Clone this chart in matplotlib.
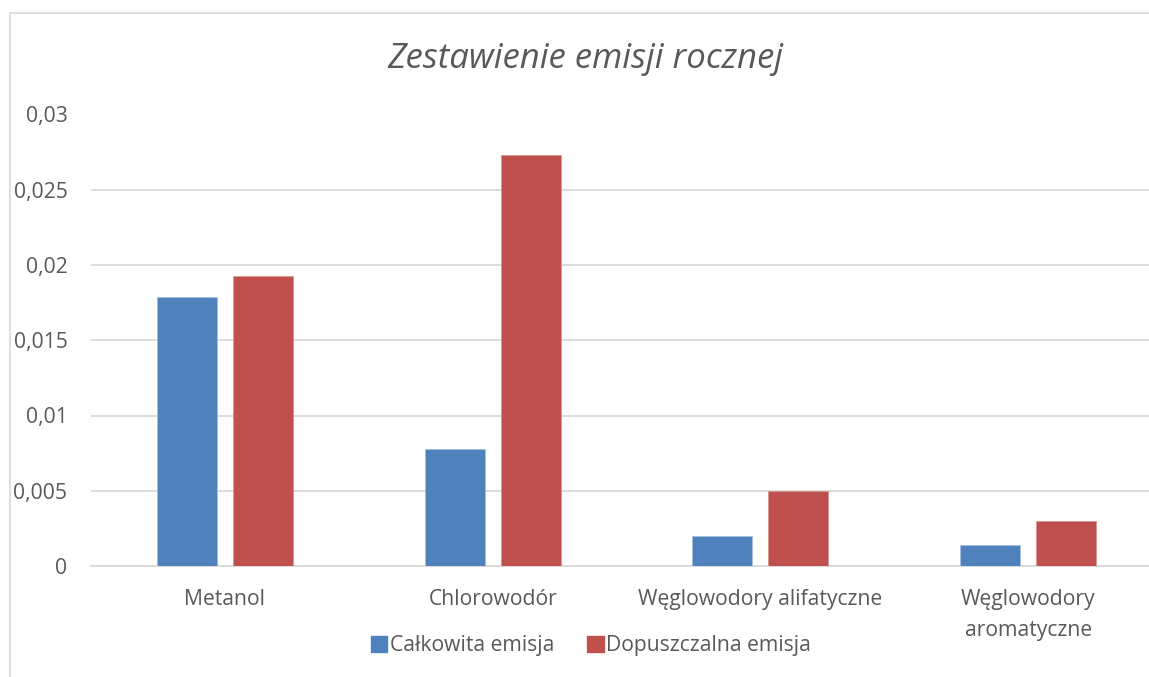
import matplotlib
matplotlib.use("Agg")
import matplotlib.pyplot as plt
from matplotlib.ticker import FuncFormatter, MultipleLocator
from matplotlib.patches import Rectangle, Patch
import numpy as np

categories = ["Metanol", "Chlorowodór", "Węglowodory alifatyczne", "Węglowodory\naromatyczne"]
series_names = ["Całkowita emisja", "Dopuszczalna emisja"]
calkowita = [0.0179, 0.0078, 0.0020, 0.0014]
dopuszczalna = [0.0193, 0.0273, 0.0050, 0.0030]
title = "Zestawienie emisji rocznej"

BLUE = "#4F81BD"
RED = "#C0504D"
GRID = "#D9D9D9"
TXT = "#595959"

plt.rcParams['font.family'] = ['Open Sans', 'DejaVu Sans']

W, H = 1149, 677
fig = plt.figure(figsize=(W / 100, H / 100), dpi=100)

# outer chart border (cropped on right/bottom)
fig.patches.append(Rectangle((10 / W, -0.1), 1.2, (H - 13) / H + 0.1,
                             transform=fig.transFigure, fill=False,
                             edgecolor=GRID, linewidth=1.2))

left, right = 91 / W, 1162 / W
bottom, top = (H - 566) / H, (H - 114.5) / H
ax = fig.add_axes([left, bottom, right - left, top - bottom])

x = np.arange(len(categories))
bw = 0.224
off = 0.142
ax.bar(x - off, calkowita, width=bw, color=BLUE, edgecolor="#A7BFDE", linewidth=0.6, zorder=3)
ax.bar(x + off, dopuszczalna, width=bw, color=RED, edgecolor="#D99694", linewidth=0.6, zorder=3)

ax.set_xlim(-0.5, len(categories) - 0.5)
ax.set_ylim(0, 0.03)
ax.yaxis.set_major_locator(MultipleLocator(0.005))
ax.yaxis.set_major_formatter(FuncFormatter(
    lambda v, p: "0" if abs(v) < 1e-12 else f"{round(v, 4):g}".replace(".", ",")))
ax.grid(axis="y", color=GRID, linewidth=1.3, zorder=0)
ax.set_axisbelow(True)
for s in ["top", "right", "left"]:
    ax.spines[s].set_visible(False)
ax.spines["bottom"].set_color(GRID)
ax.spines["bottom"].set_linewidth(1.3)

ax.set_xticks(x)
ax.set_xticklabels(categories, linespacing=1.6)
ax.tick_params(axis="x", length=0, pad=16.5, labelsize=15.2, labelcolor=TXT)
ax.tick_params(axis="y", length=0, pad=17, labelsize=15.2, labelcolor=TXT)

fig.text(585 / W, 1 - 59 / H, title, ha="center", va="center",
         fontsize=25, style="italic", color=TXT)

handles = [Patch(facecolor=BLUE, edgecolor=BLUE), Patch(facecolor=RED, edgecolor=RED)]
fig.legend(handles, series_names, loc="center", bbox_to_anchor=(591 / W, 1 - 646 / H),
           ncol=2, frameon=False, fontsize=15.2, labelcolor=TXT,
           handlelength=0.78, handleheight=0.78, handletextpad=0.12, columnspacing=1.55)

fig.savefig("out.png", dpi=100)
